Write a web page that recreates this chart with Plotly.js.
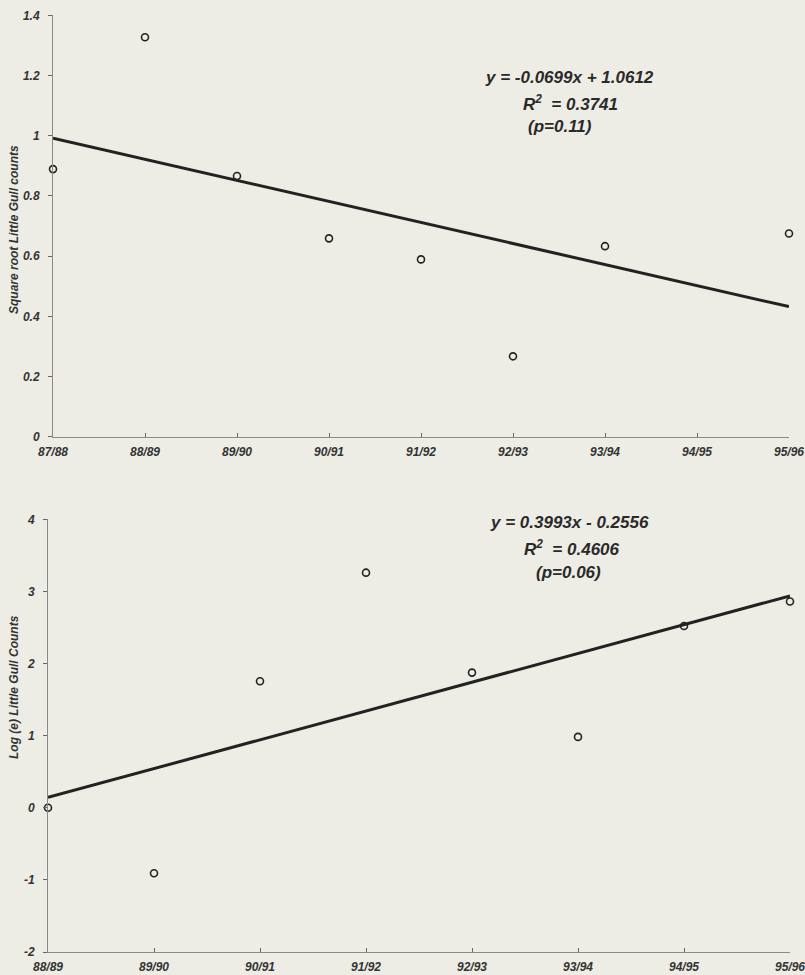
<!DOCTYPE html>
<html>
<head>
<meta charset="utf-8">
<script src="https://cdn.plot.ly/plotly-3.0.1.min.js"></script>
<style>
  html, body { margin: 0; padding: 0; background: #ededE6; }
  #chart { width: 805px; height: 975px; }
</style>
</head>
<body>
<div id="chart"></div>
<script>
// ---- Top chart: square-root transformed counts ----
const topCategories = ['87/88', '88/89', '89/90', '90/91', '91/92', '92/93', '93/94', '94/95', '95/96'];
const topTickVals = [1, 2, 3, 4, 5, 6, 7, 8, 9];
const topX = [1, 2, 3, 4, 5, 6, 7, 9];
const topY = [0.889, 1.327, 0.866, 0.659, 0.589, 0.267, 0.633, 0.675];
const topTrendX = [1, 9];
const topTrendY = [0.9913, 0.4321];
const topEquation = ['y = -0.0699x + 1.0612', 'R<sup>2</sup>  = 0.3741', '(p=0.11)'];

// ---- Bottom chart: log(e) counts ----
const botCategories = ['88/89', '89/90', '90/91', '91/92', '92/93', '93/94', '94/95', '95/96'];
const botTickVals = [1, 2, 3, 4, 5, 6, 7, 8];
const botX = [1, 2, 3, 4, 5, 6, 7, 8];
const botY = [0.0, -0.907, 1.754, 3.26, 1.874, 0.983, 2.52, 2.86];
const botTrendX = [1, 8];
const botTrendY = [0.1437, 2.9388];
const botEquation = ['y = 0.3993x - 0.2556', 'R<sup>2</sup>  = 0.4606', '(p=0.06)'];

const W = 805, H = 975;
const px = x => x / W;
const py = y => 1 - y / H;

const FONT = 'Liberation Sans, Arial, Helvetica, sans-serif';
const tickFont = { family: FONT, size: 12, color: '#333', weight: 'bold', style: 'italic' };
const eqFont = { family: FONT, size: 17, color: '#2a2a2a', weight: 'bold', style: 'italic' };
const titleFont = { family: FONT, size: 12, color: '#333', weight: 'bold', style: 'italic' };

const markerStyle = { symbol: 'circle-open', size: 7, color: '#222', line: { width: 1.6, color: '#222' } };
const lineStyle = { color: '#222', width: 3 };

const traces = [
  { x: topTrendX, y: topTrendY, xaxis: 'x', yaxis: 'y', mode: 'lines', line: lineStyle, cliponaxis: false, hoverinfo: 'skip' },
  { x: topX, y: topY, xaxis: 'x', yaxis: 'y', mode: 'markers', marker: markerStyle, cliponaxis: false },
  { x: botTrendX, y: botTrendY, xaxis: 'x2', yaxis: 'y2', mode: 'lines', line: lineStyle, cliponaxis: false, hoverinfo: 'skip' },
  { x: botX, y: botY, xaxis: 'x2', yaxis: 'y2', mode: 'markers', marker: markerStyle, cliponaxis: false }
];

const axisCommon = {
  showgrid: false, zeroline: false, showline: true, linecolor: '#8a8a8a', linewidth: 1,
  tickcolor: '#666', tickwidth: 1, ticklen: 4, tickfont: tickFont, fixedrange: true,
  ticklabeloverflow: 'allow'
};

const annotations = [];
function addEq(lines, xs, ys) {
  lines.forEach((t, i) => annotations.push({
    text: t, xref: 'paper', yref: 'paper', x: px(xs[i]), y: py(ys[i]),
    xanchor: 'left', yanchor: 'middle', showarrow: false, font: eqFont
  }));
}
addEq(topEquation, [483, 521, 526], [78, 103, 127]);
addEq(botEquation, [488, 522, 534], [522, 548, 572]);

annotations.push({
  text: 'Square root Little Gull counts', xref: 'paper', yref: 'paper',
  x: px(14), y: py(230), textangle: -90, showarrow: false, font: titleFont,
  xanchor: 'center', yanchor: 'middle'
});
annotations.push({
  text: 'Log (e) Little Gull Counts', xref: 'paper', yref: 'paper',
  x: px(14), y: py(687), textangle: -90, showarrow: false, font: titleFont,
  xanchor: 'center', yanchor: 'middle'
});

const layout = {
  width: W, height: H,
  margin: { l: 0, r: 0, t: 0, b: 0 },
  paper_bgcolor: '#ededE6', plot_bgcolor: 'rgba(0,0,0,0)',
  showlegend: false,
  xaxis: Object.assign({}, axisCommon, {
    domain: [px(53), px(789)], range: [1, 9], anchor: 'y',
    tickmode: 'array', tickvals: topTickVals, ticktext: topCategories, ticks: 'inside',
    ticklabelstandoff: 4
  }),
  yaxis: Object.assign({}, axisCommon, {
    domain: [py(436.7), py(15.3)], range: [0, 1.4], anchor: 'x',
    tickmode: 'array', tickvals: [0, 0.2, 0.4, 0.6, 0.8, 1, 1.2, 1.4],
    ticktext: ['0', '0.2', '0.4', '0.6', '0.8', '1', '1.2', '1.4'], ticks: 'outside',
    ticklabelstandoff: 6
  }),
  xaxis2: Object.assign({}, axisCommon, {
    domain: [px(48), px(790)], range: [1, 8], anchor: 'y2',
    tickmode: 'array', tickvals: botTickVals, ticktext: botCategories, ticks: 'inside',
    ticklabelstandoff: 4
  }),
  yaxis2: Object.assign({}, axisCommon, {
    domain: [py(952), py(519.3)], range: [-2, 4], anchor: 'x2',
    tickmode: 'array', tickvals: [-2, -1, 0, 1, 2, 3, 4],
    ticktext: ['-2', '-1', '0', '1', '2', '3', '4'], ticks: 'outside',
    ticklabelstandoff: 6
  }),
  annotations: annotations
};

Plotly.newPlot('chart', traces, layout, { displayModeBar: false, staticPlot: true });
</script>
</body>
</html>
